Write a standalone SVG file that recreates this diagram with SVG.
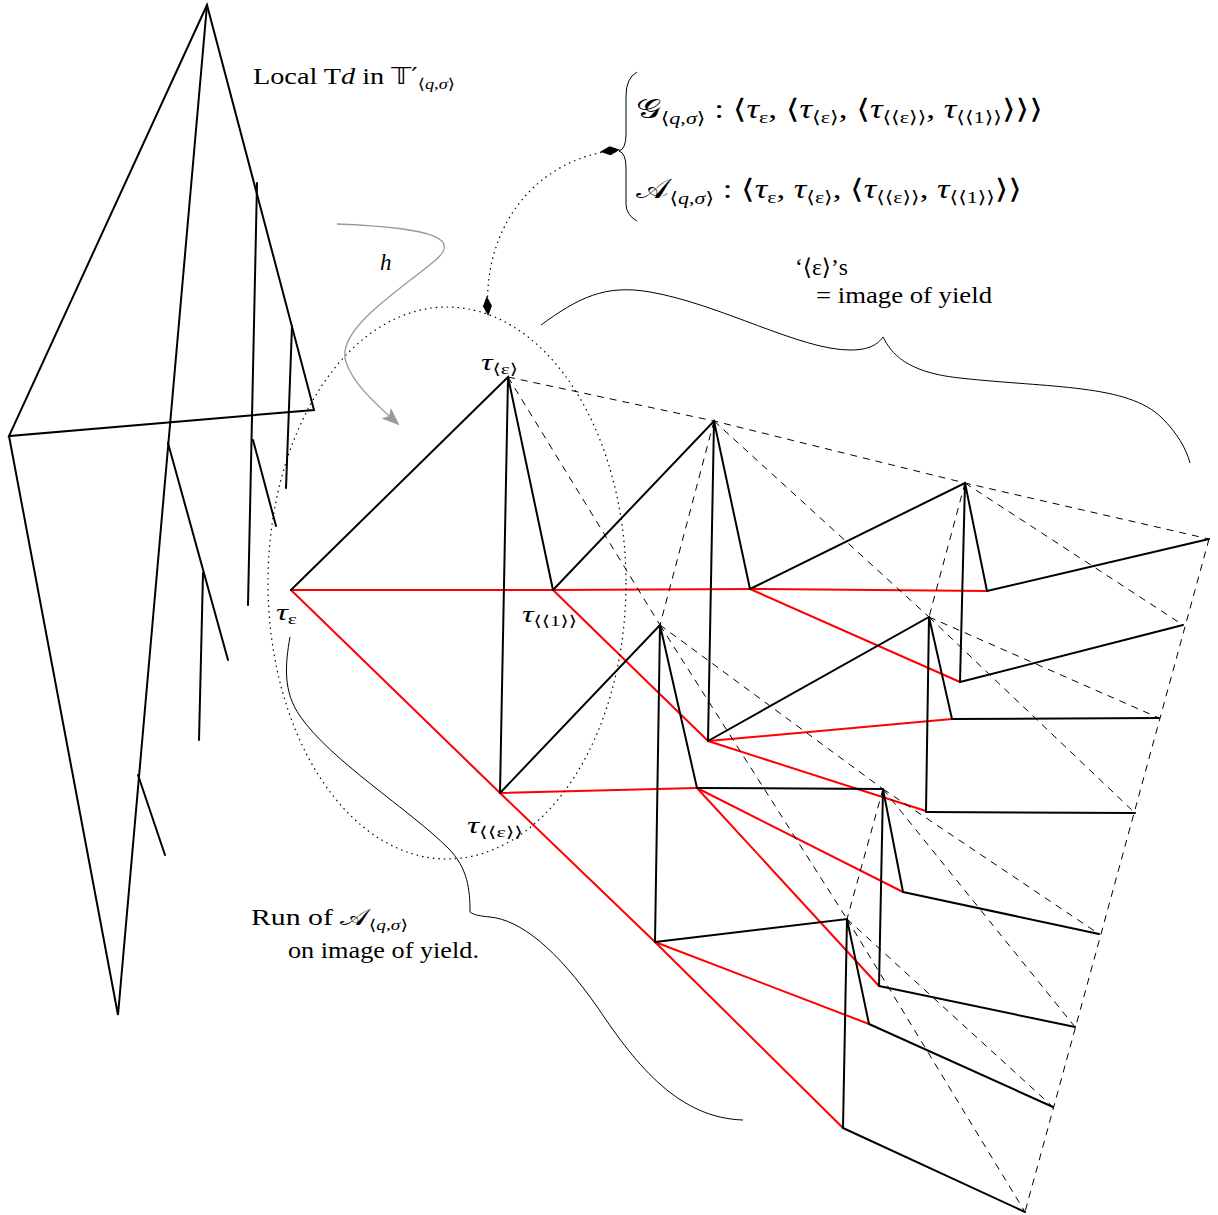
<svg xmlns="http://www.w3.org/2000/svg" width="1218" height="1215" viewBox="0 0 1218 1215">
<style>
.k{stroke:#000;stroke-width:2;fill:none;stroke-linecap:round}
.r{stroke:#ff0000;stroke-width:2;fill:none;stroke-linecap:round}
.d{stroke:#000;stroke-width:1;fill:none;stroke-dasharray:7 6}
.dot{stroke:#000;stroke-width:1.2;fill:none;stroke-dasharray:1.5 4}
.thin{stroke:#000;stroke-width:1;fill:none}
.t{font-family:"Liberation Serif","DejaVu Serif",serif;font-size:23px;fill:#000}
.f{font-family:"Liberation Serif","DejaVu Serif",serif;font-size:27px;fill:#000}
.i{font-style:italic}
.sb{font-size:15px}
.sbf{font-size:17px}
.sym{font-family:"DejaVu Sans",sans-serif}
</style>
<defs>
<marker id="ak" markerWidth="24" markerHeight="12" refX="0" refY="0" viewBox="-20 -6 24 12" orient="auto-start-reverse" markerUnits="userSpaceOnUse">
<path d="M2,0 L-8,-4.5 L-18,0 L-8,4.5 Z" fill="#000"/>
</marker>
<marker id="ag" markerWidth="24" markerHeight="14" refX="0" refY="0" viewBox="-20 -7 24 14" orient="auto" markerUnits="userSpaceOnUse">
<path d="M2,0 L-16,-7 L-12,0 L-16,7 Z" fill="#999"/>
</marker>
</defs>
<rect width="1218" height="1215" fill="#fff"/>

<g id="left-tree">
<path class="k" d="M207,5 L9,436 L314,410 Z"/>
<path class="k" d="M207,5 L118,1015 L9,436"/>
<path class="k" d="M257,183 L248,605"/>
<path class="k" d="M292,326 L286,488"/>
<path class="k" d="M253,440 L276,526"/>
<path class="k" d="M168,443 L228,660"/>
<path class="k" d="M203,573 L199,740"/>
<path class="k" d="M138,775 L165,855"/>
</g>

<g id="run-tree">
<g id="red-edges">
<path class="r" d="M291,590 L553,590 L750,589 L987,591"/>
<path class="r" d="M291,590 L500,793 L655,942 L843,1128"/>
<path class="r" d="M553,590 L708,741"/>
<path class="r" d="M500,793 L697,788"/>
<path class="r" d="M750,589 L960,682"/>
<path class="r" d="M708,741 L952,719"/>
<path class="r" d="M708,741 L926,811"/>
<path class="r" d="M697,788 L903,892"/>
<path class="r" d="M697,788 L879,986"/>
<path class="r" d="M655,942 L869,1024"/>
</g>
<g id="black-edges">
<path class="k" d="M291,590 L508,377 L553,590 M508,377 L500,793"/>
<path class="k" d="M553,590 L714,421 L750,589 M714,421 L708,741"/>
<path class="k" d="M500,793 L660,625 L697,788 M660,625 L655,942"/>
<path class="k" d="M750,589 L965,483 L987,591 M965,483 L960,682"/>
<path class="k" d="M708,741 L929,617 L952,719 M929,617 L926,812"/>
<path class="k" d="M697,788 L883,789 L903,892 M883,789 L879,986"/>
<path class="k" d="M655,942 L847,919 L869,1024 M847,919 L843,1128"/>
<path class="k" d="M987,591 L1209,539 M960,682 L1183,625 M952,719 L1159,718 M926,812 L1135,813 M903,892 L1099,934 M879,986 L1075,1027 M869,1024 L1053,1107 M843,1128 L1025,1212"/>
</g>
<g id="yield-dashed">
<path class="d" d="M508,377 L714,421 L965,483 L1209,539"/>
<path class="d" d="M508,377 L660,625 M714,421 L660,625"/>
<path class="d" d="M714,421 L929,617 M965,483 L929,617"/>
<path class="d" d="M965,483 L1183,625"/>
<path class="d" d="M929,617 L1159,718 M929,617 L1135,813"/>
<path class="d" d="M660,625 L883,789 M660,625 L847,919 M883,789 L847,919"/>
<path class="d" d="M883,789 L1099,934 M883,789 L1075,1027"/>
<path class="d" d="M847,919 L1053,1107 M847,919 L1025,1212"/>
<path class="d" d="M1209,539 L1025,1212"/>
</g>
</g>

<g id="connectors">
<ellipse class="dot" cx="447" cy="583" rx="179" ry="276"/>
<path class="dot" d="M618,150 C535,158 482,228 488,314" marker-start="url(#ak)" marker-end="url(#ak)"/>
<path d="M337,224 C440,228 462,240 432,263 C400,290 335,330 346,362 C353,384 376,404 398,424" stroke="#999" stroke-width="1.3" fill="none" marker-end="url(#ag)"/>
</g>

<g id="braces">
<path class="thin" d="M637,72 Q626,78 626,96 L626,134 Q626,149 619,151 Q626,153 626,168 L626,204 Q626,215 637,221"/>
<path class="thin" d="M541,325 C578,298 605,284 650,292 C720,304 800,350 850,350 C870,350 878,344 883,337 C890,350 902,372 960,378 C1050,388 1128,384 1162,418 C1177,433 1186,448 1190,463"/>
<path class="thin" d="M290,637 C285,665 283,692 300,716 C330,760 410,810 448,848 C468,868 470,890 470,912 C474,915 480,916 490,917 C520,920 556,948 598,1008 C638,1068 680,1118 743,1120"/>
</g>

<g id="labels">
<text class="t" x="253" y="84" textLength="202" lengthAdjust="spacingAndGlyphs">Local T<tspan class="i">d</tspan>  in <tspan class="sym">𝕋′</tspan><tspan class="sb" dy="5"><tspan class="sym">⟨</tspan><tspan class="i">q</tspan>,<tspan class="i">σ</tspan><tspan class="sym">⟩</tspan></tspan></text>
<text class="t i" x="380" y="270">h</text>
<text class="t" x="481" y="370" textLength="37" lengthAdjust="spacingAndGlyphs"><tspan class="i">τ</tspan><tspan class="sb" dy="4"><tspan class="sym">⟨</tspan>ε<tspan class="sym">⟩</tspan></tspan></text>
<text class="t" x="276" y="620" textLength="21" lengthAdjust="spacingAndGlyphs"><tspan class="i">τ</tspan><tspan class="sb" dy="4">ε</tspan></text>
<text class="t" x="522" y="622" textLength="55" lengthAdjust="spacingAndGlyphs"><tspan class="i">τ</tspan><tspan class="sb" dy="4"><tspan class="sym">⟨⟨</tspan>1<tspan class="sym">⟩⟩</tspan></tspan></text>
<text class="t" x="467" y="833" textLength="56" lengthAdjust="spacingAndGlyphs"><tspan class="i">τ</tspan><tspan class="sb" dy="4"><tspan class="sym">⟨⟨</tspan>ε<tspan class="sym">⟩⟩</tspan></tspan></text>
<text class="t" x="795" y="275" textLength="53" lengthAdjust="spacingAndGlyphs">‘<tspan class="sym">⟨</tspan>ε<tspan class="sym">⟩</tspan>’s</text>
<text class="t" x="816" y="303" textLength="176" lengthAdjust="spacingAndGlyphs">= image of yield</text>
<text class="t" x="251" y="925" textLength="157" lengthAdjust="spacingAndGlyphs">Run of <tspan class="sym">𝒜</tspan><tspan class="sb" dy="5"><tspan class="sym">⟨</tspan><tspan class="i">q</tspan>,<tspan class="i">σ</tspan><tspan class="sym">⟩</tspan></tspan></text>
<text class="t" x="288" y="958" textLength="191" lengthAdjust="spacingAndGlyphs">on image of yield.</text>

<text class="f" x="636" y="118" textLength="407" lengthAdjust="spacingAndGlyphs"><tspan class="sym">𝒢</tspan><tspan class="sbf" dy="6"><tspan class="sym">⟨</tspan><tspan class="i">q</tspan>,<tspan class="i">σ</tspan><tspan class="sym">⟩</tspan></tspan><tspan dy="-6"> :  </tspan><tspan class="sym">⟨</tspan><tspan class="i">τ</tspan><tspan class="sbf" dy="5">ε</tspan><tspan dy="-5">, </tspan><tspan class="sym">⟨</tspan><tspan class="i">τ</tspan><tspan class="sbf" dy="5"><tspan class="sym">⟨</tspan>ε<tspan class="sym">⟩</tspan></tspan><tspan dy="-5">, </tspan><tspan class="sym">⟨</tspan><tspan class="i">τ</tspan><tspan class="sbf" dy="5"><tspan class="sym">⟨⟨</tspan>ε<tspan class="sym">⟩⟩</tspan></tspan><tspan dy="-5">, </tspan><tspan class="i">τ</tspan><tspan class="sbf" dy="5"><tspan class="sym">⟨⟨</tspan>1<tspan class="sym">⟩⟩</tspan></tspan><tspan class="sym" dy="-5">⟩⟩⟩</tspan></text>
<text class="f" x="636" y="198" textLength="386" lengthAdjust="spacingAndGlyphs"><tspan class="sym">𝒜</tspan><tspan class="sbf" dy="6"><tspan class="sym">⟨</tspan><tspan class="i">q</tspan>,<tspan class="i">σ</tspan><tspan class="sym">⟩</tspan></tspan><tspan dy="-6"> :  </tspan><tspan class="sym">⟨</tspan><tspan class="i">τ</tspan><tspan class="sbf" dy="5">ε</tspan><tspan dy="-5">, </tspan><tspan class="i">τ</tspan><tspan class="sbf" dy="5"><tspan class="sym">⟨</tspan>ε<tspan class="sym">⟩</tspan></tspan><tspan dy="-5">, </tspan><tspan class="sym">⟨</tspan><tspan class="i">τ</tspan><tspan class="sbf" dy="5"><tspan class="sym">⟨⟨</tspan>ε<tspan class="sym">⟩⟩</tspan></tspan><tspan dy="-5">, </tspan><tspan class="i">τ</tspan><tspan class="sbf" dy="5"><tspan class="sym">⟨⟨</tspan>1<tspan class="sym">⟩⟩</tspan></tspan><tspan class="sym" dy="-5">⟩⟩</tspan></text>
</g>
</svg>
